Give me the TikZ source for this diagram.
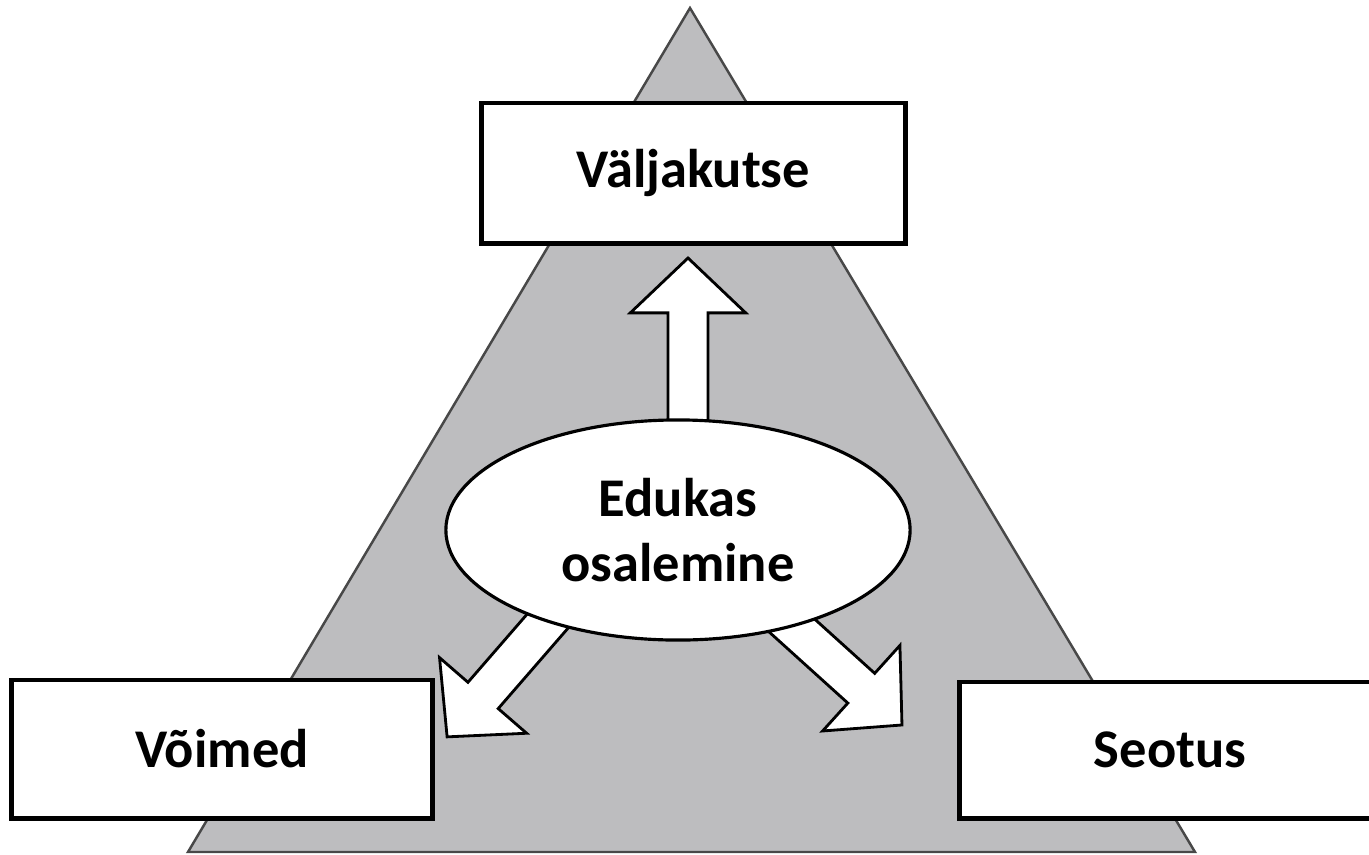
\documentclass[tikz,border=0pt]{standalone}
\usepackage{fontspec}
\setmainfont{Carlito}
\usetikzlibrary{shapes.geometric,calc}
\definecolor{trifill}{RGB}{189,189,191}
\definecolor{triedge}{RGB}{72,72,72}
\tikzset{
	box/.style={draw=black, line width=1.4pt, fill=white, minimum width=4.2cm, minimum height=1.38cm, inner sep=0pt, font=\bfseries\fontsize{15.5}{18.5}\selectfont},
	fatarrow/.style={draw=black, line width=0.8pt, fill=white, line join=miter}
}
% hollow block arrow from #1 to the tip #2
\newcommand{\fatarrow}[2]{%
	\draw[fatarrow] let \p1=($(#2)-(#1)$), \n1={atan2(\y1,\x1)}, \n2={veclen(\x1,\y1)-15.6} in
	[shift={(#1)}, rotate=\n1]
	(-12pt,-5.7pt) -- ({\n2*1pt},-5.7pt) -- ({\n2*1pt},-16.4pt) -- ({(\n2+15.6)*1pt},0pt)
	-- ({\n2*1pt},16.4pt) -- ({\n2*1pt},5.7pt) -- (-12pt,5.7pt) -- cycle;
}
\begin{document}
\begin{tikzpicture}[x=0.01cm, y=0.01cm]
	\useasboundingbox (0,0) rectangle (1369,-854);
	\filldraw[draw=triedge, line width=0.7pt, fill=trifill] (188,-852) -- (690,-8) -- (1195,-852) -- cycle;
	\node[ellipse, minimum width=4.64cm, minimum height=2.2cm, inner sep=0pt] (edu) at (678,-530) {};
	\coordinate (upTip) at (688,-258);
	\coordinate (leftTip) at (447,-737);
	\coordinate (rightTip) at (902,-725);
	\fatarrow{edu.north -| upTip}{upTip}
	\fatarrow{edu.215}{leftTip}
	\fatarrow{edu.320}{rightTip}
	\node[ellipse, draw=black, line width=0.9pt, fill=white, minimum width=4.64cm, minimum height=2.2cm, inner sep=0pt, align=center, font=\bfseries\fontsize{15.5}{18.5}\selectfont] at (edu) {Edukas\\osalemine};
	\node[box, minimum width=4.23cm, minimum height=1.4cm] (chal) at (693.5,-173) {Väljakutse};
	\node[box] (abil) at (222,-749) {Võimed};
	\node[box, minimum height=1.36cm] (rel) at (1170,-750) {Seotus};
\end{tikzpicture}
\end{document}
